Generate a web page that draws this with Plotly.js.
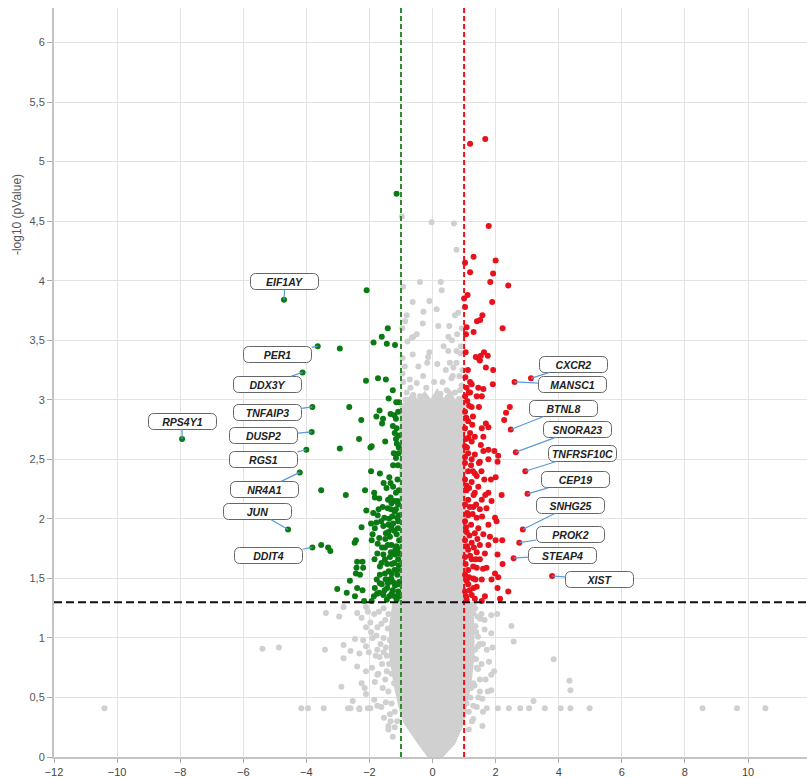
<!DOCTYPE html>
<html>
<head>
<meta charset="utf-8">
<script src="https://cdn.plot.ly/plotly-3.0.1.min.js"></script>
<style>
html,body{margin:0;padding:0;background:#fff;}
#chart{width:807px;height:778px;}
</style>
</head>
<body>
<div id="chart"></div>
<script>
// ---- thresholds ----
const fcThreshold = 1;       // |log2 FC|
const pThreshold = 1.3;      // -log10(0.05)

// ---- axis ticks ----
const xTickValues = [-12,-10,-8,-6,-4,-2,0,2,4,6,8,10,12];
const yTickValues = [0,0.5,1,1.5,2,2.5,3,3.5,4,4.5,5,5.5,6];

// ---- labelled genes ----
const downGenes = ['EIF1AY','PER1','DDX3Y','TNFAIP3','DUSP2','RGS1','NR4A1','JUN','DDIT4','RPS4Y1'];
const downGeneX = [-4.71,-3.64,-4.12,-3.81,-3.83,-4.00,-4.21,-4.58,-3.81,-7.94];
const downGeneY = [3.84,3.45,3.23,2.94,2.73,2.58,2.39,1.91,1.76,2.67];

const upGenes = ['CXCR2','MANSC1','BTNL8','SNORA23','TNFRSF10C','CEP19','SNHG25','PROK2','STEAP4','XIST'];
const upGeneX = [3.12,2.60,2.48,2.64,2.94,3.01,2.86,2.75,2.57,3.79];
const upGeneY = [3.18,3.15,2.75,2.56,2.40,2.21,1.91,1.80,1.67,1.52];

// ---- other significant down-regulated points [log2FC, -log10 p] ----
const downPoints = [[-2.94,3.43],[-1.42,3.60],[-1.61,3.53],[-1.87,3.48],[-1.45,3.47],[-1.19,3.46],[-2.11,3.16],[-1.73,3.18],[-1.48,3.17],[-1.26,3.08],
[-1.39,3.01],[-1.15,2.98],[-1.07,2.98],[-2.64,2.94],[-1.68,2.91],[-1.78,2.86],[-2.26,2.83],[-1.57,2.84],[-1.60,2.80],[-1.33,2.88],
[-1.21,2.87],[-1.16,2.84],[-1.26,2.78],[-1.14,2.76],[-1.20,2.72],[-2.33,2.67],[-1.50,2.65],[-1.16,2.67],[-1.07,2.70],[-1.97,2.60],
[-1.93,2.61],[-2.94,2.59],[-1.07,2.60],[-1.23,2.55],[-1.16,2.51],[-1.95,2.40],[-1.67,2.38],[-3.53,2.24],[-2.75,2.20],[-2.14,2.24],
[-1.37,2.35],[-1.33,2.30],[-1.25,2.27],[-1.16,2.22],[-1.07,2.24],[-1.85,2.22],[-1.83,2.18],[-1.69,2.17],[-1.33,2.18],[-1.11,2.15],
[-1.58,2.10],[-1.42,2.09],[-1.32,2.08],[-1.71,2.08],[-1.88,2.05],[-2.10,2.07],[-1.74,2.03],[-1.16,2.08],[-1.06,2.03],[-1.95,1.96],
[-2.25,1.93],[-1.83,1.92],[-1.56,1.94],[-1.40,1.95],[-1.25,1.96],[-1.09,1.98],[-1.90,1.87],[-1.69,1.84],[-1.48,1.88],[-1.35,1.85],
[-1.14,1.87],[-1.06,1.82],[-2.43,1.82],[-2.47,1.80],[-1.93,1.82],[-3.53,1.78],[-3.31,1.76],[-3.24,1.73],[-1.75,1.71],[-1.51,1.76],
[-1.30,1.78],[-1.14,1.77],[-1.56,1.70],[-1.35,1.68],[-1.19,1.70],[-1.06,1.71],[-2.39,1.64],[-2.22,1.64],[-1.84,1.66],[-2.41,1.59],
[-2.20,1.59],[-1.67,1.60],[-1.44,1.62],[-1.22,1.63],[-1.07,1.61],[-2.30,1.53],[-2.43,1.54],[-2.62,1.48],[-1.67,1.53],[-1.51,1.54],
[-1.30,1.54],[-1.12,1.53],[-3.02,1.41],[-2.72,1.38],[-2.46,1.35],[-2.39,1.42],[-2.22,1.40],[-1.83,1.42],[-1.69,1.38],[-1.44,1.42],
[-1.26,1.40],[-1.09,1.39],[-1.86,1.35],[-1.56,1.36],[-1.37,1.35],[-1.20,1.35],[-1.06,1.35],[-2.17,1.31],[-1.93,1.31],[-1.45,1.32],
[-1.14,1.32],[-1.67,1.46],[-1.45,1.49],[-1.25,1.47],[-1.06,1.47],[-1.14,4.73],[-2.09,3.92],
[-1.10,1.45],[-1.12,1.57],[-1.09,1.66],[-1.11,1.75],[-1.10,1.92],[-1.12,2.01],[-1.09,2.12],[-1.11,2.33],[-1.10,2.45],[-1.19,1.44],
[-1.21,1.57],[-1.18,1.74],[-1.22,1.90],[-1.20,2.06],[-1.21,2.15],[-1.30,1.37],[-1.31,1.50],[-1.29,1.62],[-1.32,1.72],[-1.30,1.92],
[-1.28,2.02],[-1.30,2.13],[-1.41,1.46],[-1.39,1.56],[-1.42,1.78],[-1.40,1.89],[-1.38,2.00],[-1.41,2.16],[-1.52,1.40],[-1.49,1.49],
[-1.51,1.66],[-1.50,1.83],[-1.53,2.01],[-1.61,1.45],[-1.62,1.63],[-1.60,1.76],[-1.63,1.98],[-1.76,1.37],[-1.77,1.49],[-1.74,1.79],
[-1.78,1.97],[-1.08,2.55],[-1.13,2.63],[-1.09,2.90],[-1.25,2.45],[-1.46,2.26],[-1.55,2.30]];

// ---- other significant up-regulated points ----
const upPoints = [[1.19,5.15],[1.67,5.19],[1.78,4.46],[1.30,4.20],[2.00,4.17],[1.03,4.15],[1.19,4.07],[1.92,4.06],[1.83,3.99],[2.40,3.96],
[1.11,3.88],[1.00,3.85],[1.89,3.82],[1.03,3.78],[1.58,3.71],[1.41,3.66],[1.51,3.67],[1.08,3.61],[2.22,3.60],[1.30,3.57],
[1.06,3.55],[1.37,3.36],[1.50,3.33],[1.63,3.40],[1.75,3.37],[1.53,3.37],[1.69,3.27],[1.92,3.25],[1.04,3.19],[1.19,3.15],
[1.24,3.13],[1.08,3.10],[1.61,3.09],[1.91,3.13],[1.15,3.06],[1.03,3.03],[1.40,3.03],[1.56,3.03],[1.10,2.99],[1.24,2.94],
[1.47,2.94],[1.03,2.90],[2.45,2.94],[2.33,2.89],[2.27,2.83],[1.13,2.82],[1.26,2.79],[1.69,2.80],[1.77,2.77],[1.56,2.76],
[1.03,2.76],[1.19,2.72],[1.34,2.69],[1.61,2.69],[1.06,2.67],[1.24,2.65],[1.03,2.61],[1.53,2.62],[1.61,2.57],[1.77,2.58],
[1.96,2.57],[1.13,2.55],[1.34,2.54],[2.08,2.53],[1.03,2.52],[1.24,2.50],[1.50,2.48],[1.77,2.50],[2.06,2.48],[1.03,2.47],
[1.22,2.45],[1.47,2.47],[1.13,2.40],[1.34,2.38],[1.64,2.33],[1.85,2.33],[2.00,2.35],[1.03,2.33],[1.24,2.31],[1.45,2.27],
[1.77,2.22],[2.19,2.20],[1.08,2.24],[1.34,2.22],[1.13,2.16],[1.56,2.16],[1.87,2.15],[1.03,2.12],[1.29,2.10],[1.50,2.08],
[1.71,2.09],[1.98,2.01],[2.03,1.98],[1.13,2.03],[1.40,2.01],[1.03,1.98],[1.22,1.95],[1.45,1.92],[1.77,1.95],[1.08,1.89],
[1.34,1.88],[1.61,1.87],[1.82,1.85],[2.00,1.82],[2.21,1.82],[1.03,1.82],[1.24,1.80],[1.50,1.78],[1.77,1.78],[1.13,1.74],
[1.40,1.72],[1.66,1.71],[2.06,1.70],[1.03,1.68],[1.24,1.66],[1.50,1.66],[2.22,1.62],[1.40,1.59],[1.71,1.59],[1.13,1.57],
[1.98,1.54],[2.08,1.51],[1.03,1.53],[1.29,1.50],[1.56,1.49],[1.87,1.49],[1.13,1.45],[1.40,1.43],[2.06,1.42],[2.40,1.39],
[1.03,1.39],[1.24,1.36],[1.66,1.35],[2.14,1.33],[1.08,1.32],[1.34,1.33],[1.56,1.31],[1.48,3.34],[1.45,3.10],[1.19,3.06],
[1.07,2.28],[1.10,2.05],[1.06,1.93],[1.09,1.77],[1.05,1.62],[1.08,1.48],[1.06,1.35],[1.16,2.26],[1.18,2.10],[1.17,1.86],
[1.19,1.69],[1.16,1.51],[1.18,1.40],[1.28,2.40],[1.30,2.20],[1.27,2.04],[1.31,1.76],[1.29,1.60],[1.30,1.42],[1.40,2.36],
[1.38,2.12],[1.42,1.83],[1.37,1.66],[1.36,1.49],[1.09,2.60],[1.14,2.68],[1.07,2.85],[1.16,2.95],[1.28,2.86],[1.57,2.02],
[1.60,1.58],[1.55,2.40],[1.67,2.20],[1.12,3.25],[1.05,3.40]];

// ---- non-significant genes: dense core outline ----
const coreOutlineX = [-0.97,-0.99,-1.20,-1.30,-1.30,-1.15,-1.00,-0.84,-0.40,-0.12,0.10,0.30,0.65,0.93,1.00,1.15,1.25,1.25,1.20,0.99,
  0.97,0.85,0.70,0.55,0.35,0.15,-0.05,-0.25,-0.45,-0.65,-0.82];
const coreOutlineY = [2.95,1.30,1.28,1.10,0.85,0.60,0.42,0.29,0.12,0.02,0.00,0.02,0.12,0.29,0.42,0.60,0.85,1.10,1.28,1.30,
  2.95,3.02,2.96,3.05,2.98,3.06,2.97,3.04,2.97,3.03,2.96];

// ---- non-significant genes: individual scattered points ----
const nsPoints = [[-0.97,4.54],[-0.03,4.49],[0.68,4.48],[0.76,4.26],[-0.40,3.99],[0.26,3.99],[0.29,3.92],[-0.93,3.95],[-0.63,3.82],[-0.10,3.83],
[0.81,3.73],[0.71,3.71],[-0.29,3.74],[0.13,3.76],[-0.82,3.71],[-0.87,3.66],[-0.31,3.64],[0.18,3.62],[0.53,3.62],[-0.61,3.53],
[-0.50,3.55],[-0.66,3.52],[0.50,3.53],[0.61,3.50],[-0.80,3.49],[-0.10,3.40],[-0.14,3.36],[-0.63,3.38],[0.50,3.41],[0.76,3.41],
[0.89,3.39],[-0.17,3.31],[0.55,3.31],[0.76,3.31],[0.42,3.25],[0.66,3.27],[-0.93,3.15],[-0.72,3.17],[-0.50,3.14],[0.32,3.15],
[0.64,3.20],[0.85,3.20],[-0.82,3.06],[-0.61,3.04],[-0.40,3.03],[0.45,3.08],[0.71,3.06],[0.87,3.08],[-0.95,3.22],[-0.88,3.28],
[0.92,3.12],[0.95,3.25],[0.90,3.45],[-0.95,3.35],[0.60,3.18],[-0.70,3.10],[0.25,3.05],[-0.20,3.10],[0.78,3.55],[0.93,3.60],
[-0.96,3.60],[0.05,3.15],[-0.30,3.20],[0.15,3.30],[-0.45,3.28],[0.35,3.45],[-0.85,3.00],[0.80,2.98],
[-3.38,1.21],[-2.96,1.18],[-2.82,1.26],[-2.39,1.21],[-2.11,1.26],[-2.25,1.17],[-1.97,1.13],[-1.75,1.09],[-2.11,1.09],[-2.46,0.99],
[-1.90,1.00],[-2.11,0.93],[-5.39,0.91],[-4.87,0.92],[-3.41,0.90],[-2.82,0.94],[-2.60,0.89],[-2.82,0.83],[-2.32,0.87],[-1.75,0.90],
[-2.39,0.76],[-2.11,0.72],[-1.75,0.69],[-2.89,0.59],[-2.25,0.62],[-1.83,0.63],[-2.11,0.53],[-2.53,0.47],[-2.32,0.40],[-2.68,0.41],
[-1.97,0.41],[-1.75,0.43],[-10.40,0.41],[-4.16,0.41],[-3.95,0.41],[-3.45,0.41],[-1.54,0.33],[-1.33,0.30],[-1.40,0.26],[-2.60,0.41],
[-2.32,0.41],[-2.05,0.41],[-1.40,0.23],[-1.26,0.17],
[1.29,1.21],[1.51,1.16],[1.86,1.19],[1.36,1.10],[1.65,1.07],[1.44,1.01],[1.86,1.04],[2.50,1.10],[2.57,0.97],[1.44,0.93],
[1.72,0.90],[1.29,0.83],[1.79,0.80],[3.84,0.82],[1.44,0.74],[1.86,0.69],[4.34,0.64],[4.37,0.56],[1.29,0.62],[1.86,0.56],
[1.58,0.49],[3.20,0.47],[1.29,0.43],[1.72,0.41],[2.07,0.41],[2.42,0.41],[2.78,0.41],[3.06,0.41],[3.56,0.41],[4.06,0.41],
[4.37,0.41],[4.98,0.41],[8.56,0.41],[9.65,0.41],[10.55,0.41],[1.29,0.32],[1.58,0.26],[1.15,0.23],
[-1.40,1.20],[-1.50,1.15],[-1.55,1.00],[-1.45,0.85],[-1.60,0.78],[-1.50,0.65],[-1.40,0.55],[-1.30,0.45],[-1.20,0.38],[-1.70,1.22],
[-1.65,0.95],[-1.80,0.85],[-1.85,1.20],[-1.45,0.72],[1.35,1.25],[1.40,0.75],[1.33,0.60],[1.20,0.50],[1.15,0.38],[1.55,1.20],
[1.60,0.95],[1.35,0.90],[1.50,0.65],[1.45,0.50],
[-1.05,1.22],[-1.12,1.05],[-1.08,0.92],[-1.18,0.80],[-1.10,0.68],[-1.22,0.62],[-1.35,0.98],[-1.42,1.08],[-1.48,0.92],[-1.38,0.78],
[-1.55,0.88],[-1.62,1.12],[-1.68,0.84],[-1.72,0.70],[-1.58,0.58],[-1.48,0.46],[-1.62,0.42],[-1.85,0.48],[-1.92,0.75],[-2.02,0.88],
[-1.95,1.05],[-2.05,1.22],[-2.20,0.98],[-2.15,0.58],[-1.35,0.36],[-1.12,0.30],[-1.20,0.25],[-1.55,1.25],[-1.25,1.15],[-1.15,1.27],
[-1.78,1.02],[-1.30,0.70],
[1.05,1.22],[1.12,1.08],[1.08,0.92],[1.20,0.85],[1.10,0.70],[1.22,0.58],[1.38,1.05],[1.42,1.18],[1.50,0.95],[1.38,0.82],
[1.55,0.78],[1.65,1.15],[1.68,0.65],[1.50,0.55],[1.40,0.42],[1.60,0.38],[1.90,0.92],[1.95,0.72],[2.05,1.20],[1.75,0.55],
[1.25,0.30],[1.08,0.45],[1.30,1.28],[1.22,0.98]];

// ---- label offsets (pixels, box centre relative to point) ----
const downLabelOffsets = [[1,-18],[-40,8],[-35,12],[-45,6],[-48,4],[-43,10],[-35,17],[-31,-18],[-44,8],[0,-18]];
const upLabelOffsets = [[43,-14],[58,3],[53,-21],[62,-23],[57,-18],[48,-14],[48,-24],[51,-8],[49,-3],[47,3]];

const GRAY = '#d0d0d0', GREEN = '#0a7a12', RED = '#e8121c';

const traces = [
  {type:'scatter', mode:'lines', x:coreOutlineX.concat([coreOutlineX[0]]), y:coreOutlineY.concat([coreOutlineY[0]]),
   fill:'toself', fillcolor:GRAY, line:{color:GRAY, width:5}, hoverinfo:'skip'},
  {type:'scatter', mode:'markers', x:nsPoints.map(p=>p[0]), y:nsPoints.map(p=>p[1]),
   marker:{color:GRAY, size:6}},
  {type:'scatter', mode:'markers', x:downPoints.map(p=>p[0]).concat(downGeneX), y:downPoints.map(p=>p[1]).concat(downGeneY),
   marker:{color:GREEN, size:6}},
  {type:'scatter', mode:'markers', x:upPoints.map(p=>p[0]).concat(upGeneX), y:upPoints.map(p=>p[1]).concat(upGeneY),
   marker:{color:RED, size:6}}
];

function makeLabels(names, xs, ys, offs){
  return names.map((n,i)=>({
    x:xs[i], y:ys[i], xref:'x', yref:'y', text:n,
    showarrow:true, arrowhead:0, arrowwidth:1.2, arrowcolor:'#5b9bd5', standoff:0,
    ax:offs[i][0], ay:offs[i][1],
    width:65, height:13, borderpad:1, borderwidth:1, bordercolor:'#666', bgcolor:'#ffffff',
    font:{family:'Liberation Sans, Arial, sans-serif', size:10.5, color:'#222', weight:'bold', style:'italic'}
  }));
}

const annotations = makeLabels(downGenes, downGeneX, downGeneY, downLabelOffsets)
  .concat(makeLabels(upGenes, upGeneX, upGeneY, upLabelOffsets));

annotations.push({
  xref:'paper', yref:'paper', x:-0.05, y:0.724, xanchor:'center', yanchor:'middle',
  text:'-log10 (pValue)', showarrow:false, textangle:-90,
  font:{family:'Liberation Sans, Arial, sans-serif', size:12, color:'#555'}
});

const layout = {
  width:807, height:778,
  margin:{l:54, r:0, t:8, b:21},
  paper_bgcolor:'#ffffff', plot_bgcolor:'#ffffff',
  showlegend:false, hovermode:false,
  separators:',.',
  xaxis:{range:[-12,11.87], tickvals:xTickValues, showgrid:true, gridcolor:'#e3e3e3', gridwidth:1,
         zeroline:false, showline:true, linecolor:'#c4c4c4', linewidth:2, ticks:'outside', ticklen:4, tickcolor:'#aaa',
         tickfont:{family:'Liberation Sans Narrow, Liberation Sans, Arial, sans-serif', size:11, color:'#444'}},
  yaxis:{range:[0,6.29], tickvals:yTickValues, showgrid:true, gridcolor:'#e3e3e3', gridwidth:1,
         zeroline:false, showline:true, linecolor:'#c4c4c4', linewidth:2, ticks:'outside', ticklen:5, tickcolor:'#aaa',
         tickfont:{family:'Liberation Sans, Arial, sans-serif', size:11, color:'#555'}},
  shapes:[
    {type:'line', xref:'x', yref:'paper', x0:-fcThreshold, x1:-fcThreshold, y0:0, y1:1, line:{color:'#2e8b2e', width:2, dash:'5px,3px'}},
    {type:'line', xref:'x', yref:'paper', x0:fcThreshold, x1:fcThreshold, y0:0, y1:1, line:{color:'#e8121c', width:2, dash:'5px,3px'}},
    {type:'line', xref:'paper', yref:'y', x0:0, x1:1, y0:pThreshold, y1:pThreshold, line:{color:'#111', width:2, dash:'8px,4px'}}
  ],
  annotations:annotations
};

Plotly.newPlot('chart', traces, layout, {staticPlot:true, displayModeBar:false}).then(function(){
  document.querySelectorAll('.annotation-text-g rect.bg').forEach(function(r){
    r.setAttribute('rx', 5); r.setAttribute('ry', 5);
  });
});
</script>
</body>
</html>
